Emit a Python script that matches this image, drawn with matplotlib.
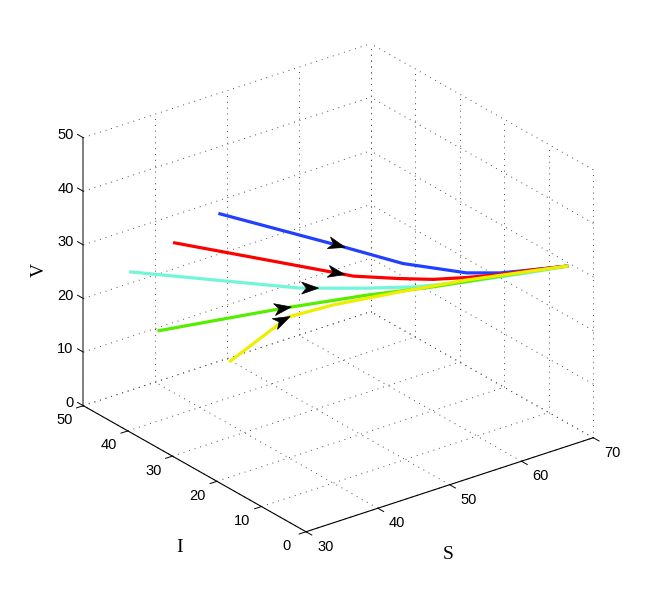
import numpy as np
import matplotlib.pyplot as plt
from matplotlib.patches import Polygon
from matplotlib.transforms import IdentityTransform

# axis ticks
s_ticks = [30, 40, 50, 60, 70]
i_ticks = [0, 10, 20, 30, 40, 50]
v_ticks = [0, 10, 20, 30, 40, 50]

# trajectories (S, I, V)
blue_S = [30.2, 43.0, 49.7, 56.7, 60.7, 64.7, 69.0]
blue_I = [20, 14, 10, 7, 6, 5, 4]
blue_V = [49.9, 41.2, 36.7, 33.3, 32.0, 31.3, 30.6]

red_S = [30.1, 44.8, 46.2, 50.5, 53.9, 57.3, 60.7, 64.7, 69.0]
red_I = [30, 17, 15.5, 12, 10, 8, 6, 5, 4]
red_V = [39.8, 33.8, 33.3, 32.6, 31.9, 31.7, 31.7, 31.3, 30.6]

cyan_S = [30.2, 38.5, 42.8, 47.75, 52.2, 57.3, 64.7, 69.0]
cyan_I = [40, 30, 22, 15, 11, 8, 5, 4]
cyan_V = [29.6, 28.8, 29.5, 30.6, 30.8, 30.9, 30.9, 30.6]

green_S = [30.4, 40.3, 47.75, 53.9, 60.7, 64.7, 69.0]
green_I = [34, 22, 15, 10, 6, 5, 4]
green_V = [21.3, 26.8, 29.3, 30.5, 31.4, 31.1, 30.6]

yellow_S = [30.45, 35.6, 40.6, 48.0, 56.1, 64.7, 69.0]
yellow_I = [18, 13, 11, 8, 6, 5, 4]
yellow_V = [23.0, 31.5, 32.5, 33.1, 32.7, 31.1, 30.6]

# colour, segment holding the arrow tip, fraction along that segment
curves = [
    (blue_S, blue_I, blue_V, '#2040ff', 1, 0.125),
    (red_S, red_I, red_V, '#ff0000', 1, 0.5),
    (cyan_S, cyan_I, cyan_V, '#72f5d8', 2, 0.28),
    (green_S, green_I, green_V, '#55ee00', 1, 0.11),
    (yellow_S, yellow_I, yellow_V, '#eeee00', 1, 0.04),
]

fig = plt.figure(figsize=(6.54, 5.99), dpi=100)
ax = fig.add_axes([0.0639, 0.0247, 0.8829, 0.9639], projection='3d')
ax.set_proj_type('ortho')
ax.view_init(elev=25.5, azim=-127.25)
ax.set_box_aspect((360.9, 367.9, 296.9))
ax.set_xlim(30, 70)
ax.set_ylim(0, 50)
ax.set_zlim(0, 50)
ax.set_axis_off()
ax.computed_zorder = False

s0, s1 = s_ticks[0], s_ticks[-1]
i0, i1 = i_ticks[0], i_ticks[-1]
v0, v1 = v_ticks[0], v_ticks[-1]

# dotted grid on the three back planes
gkw = dict(color='0.3', lw=0.7, ls=(0, (1, 5)))
for s in s_ticks:
    ax.plot([s, s], [i0, i1], [v0, v0], **gkw)
    ax.plot([s, s], [i1, i1], [v0, v1], **gkw)
for i in i_ticks:
    ax.plot([s0, s1], [i, i], [v0, v0], **gkw)
    ax.plot([s1, s1], [i, i], [v0, v1], **gkw)
for v in v_ticks:
    ax.plot([s0, s1], [i1, i1], [v, v], **gkw)
    ax.plot([s1, s1], [i0, i1], [v, v], **gkw)

# axis lines and ticks
ax.plot([s0, s0], [i1, i1], [v0, v1], color='0.5', lw=1.4)
ax.plot([s0, s0], [i0, i1], [v0, v0], color='k', lw=0.8)
ax.plot([s0, s1], [i0, i0], [v0, v0], color='k', lw=0.8)
for v in v_ticks:
    ax.plot([s0, s0], [i1, i1 + 1.3], [v, v], color='k', lw=0.7)
for i in i_ticks:
    ax.plot([s0, s0 - 0.95], [i, i], [v0, v0], color='k', lw=0.7)
for s in s_ticks:
    ax.plot([s, s], [i0, i0 - 1.3], [v0, v0], color='k', lw=0.7)

for S, I, V, col, k, f in curves:
    ax.plot(S, I, V, color=col, lw=2.3, solid_capstyle='butt')

fig.canvas.draw()
M = ax.get_proj()


def to_pix(x, y, z):
    vec = M @ np.array([x, y, z, 1.0])
    return ax.transData.transform((vec[0] / vec[3], vec[1] / vec[3]))


def label(x, y, z, s, **kw):
    px, py = to_pix(x, y, z)
    fig.text(px, py, s, transform=IdentityTransform(), **kw)


# tick labels and axis labels, placed at projected 3D spots
tfont = dict(family='Liberation Sans', size=10.5)
for v in v_ticks:
    label(s0, i1 + 2.2, v - 0.55, str(v), ha='right', va='center', **tfont)
for i in i_ticks:
    label(s0 - 2.65, i, v0 - 1.55, str(i), ha='center', va='center', **tfont)
for s in s_ticks:
    label(s, i0 - 4.33, v0 - 0.73, str(s), ha='center', va='center', **tfont)

lfont = dict(family='Liberation Serif', size=14)
label(30, 60, 20.7, 'V', rotation=90, ha='center', va='center', **lfont)
label(27.95, 25, -13.8, 'I', ha='center', va='center', **lfont)
label(49.8, 0, -13.0, 'S', ha='center', va='center', **lfont)


def unit(p, q):
    d = q - p
    return d / np.linalg.norm(d)


# arrow heads, drawn in pixel space along each curve
for S, I, V, col, k, f in curves:
    P = [np.array([S[j], I[j], V[j]]) for j in range(len(S))]
    tip = to_pix(*(P[k] + f * (P[k + 1] - P[k])))
    d = unit(to_pix(*P[k]), to_pix(*P[k + 1]))
    if f < 0.1:
        # tip sits just past a kink: lean on the incoming segment too
        d = d + unit(to_pix(*P[k - 1]), to_pix(*P[k]))
        d = d / np.linalg.norm(d)
    n = np.array([-d[1], d[0]])
    L, W = 17, 12
    pts = [tip, tip - L * d + W / 2 * n, tip - 0.72 * L * d, tip - L * d - W / 2 * n]
    fig.add_artist(Polygon(pts, closed=True, facecolor='k', edgecolor='k',
                           lw=0.5, transform=IdentityTransform(), zorder=5))

fig.savefig('out.png', dpi=100)
